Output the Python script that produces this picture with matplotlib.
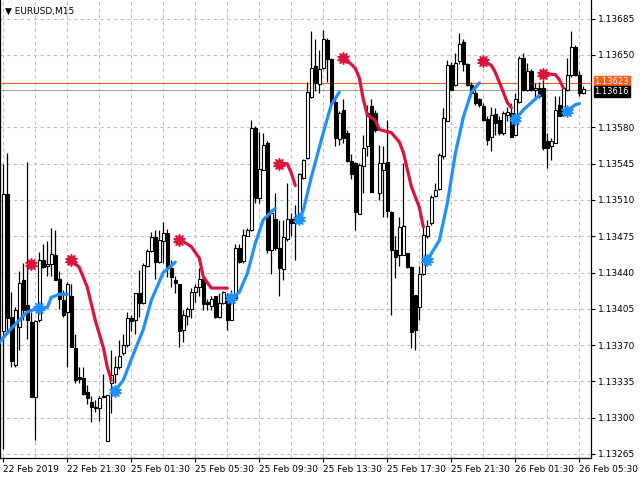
import matplotlib
matplotlib.use("Agg")
import matplotlib.pyplot as plt
import numpy as np

# prices in points: price = 1.0 + p * 1e-5
opens = [13384,13516,13397,13351,13387,13433,13409,13392,13320,13394,13452,13446,13448,13457,13434,13413,13402,13417,13367,13339,
13338,13325,13315,13310,13309,13321,13277,13333,13342,13349,13362,13370,13396,13394,13420,13411,13446,13461,13474,13450,
13470,13478,13444,13433,13429,13385,13398,13405,13421,13426,13434,13412,13408,13417,13397,13411,13417,13394,13415,13464,
13451,13475,13481,13579,13512,13539,13565,13462,13492,13464,13443,13472,13492,13488,13491,13531,13551,13609,13639,13622,
13637,13664,13646,13605,13569,13597,13575,13548,13546,13496,13543,13562,13601,13594,13517,13539,13547,13498,13462,13457,
13457,13459,13445,13418,13407,13439,13475,13488,13514,13521,13552,13586,13640,13621,13644,13662,13641,13621,13613,13607,
13601,13588,13571,13593,13587,13575,13592,13594,13573,13605,13647,13616,13634,13616,13618,13618,13567,13562,13565,13602,
13592,13616,13631,13658,13631,13613]
closes = [13516,13396,13355,13404,13430,13404,13394,13320,13393,13452,13445,13448,13458,13433,13414,13399,13429,13368,13336,13337,
13323,13319,13310,13309,13319,13320,13322,13341,13349,13359,13370,13396,13393,13420,13411,13447,13461,13474,13450,13471,
13478,13444,13436,13430,13384,13399,13405,13421,13426,13434,13410,13410,13414,13397,13411,13421,13394,13415,13464,13450,
13476,13481,13579,13512,13540,13563,13462,13497,13464,13444,13474,13492,13488,13492,13535,13549,13614,13637,13623,13636,
13665,13646,13604,13570,13594,13570,13548,13535,13498,13544,13560,13594,13518,13578,13546,13546,13499,13462,13455,13484,
13485,13445,13383,13385,13439,13476,13485,13513,13520,13553,13589,13640,13616,13642,13661,13641,13621,13613,13604,13602,
13587,13568,13592,13584,13575,13594,13595,13571,13607,13647,13616,13634,13616,13618,13610,13560,13560,13567,13597,13591,
13618,13631,13658,13631,13613,13617]
highs = [13545,13555,13421,13407,13441,13449,13547,13402,13394,13460,13468,13470,13483,13481,13441,13423,13431,13429,13381,13349,
13349,13331,13321,13317,13321,13342,13322,13365,13359,13375,13381,13402,13399,13420,13442,13449,13463,13479,13481,13481,
13489,13482,13452,13437,13429,13404,13407,13425,13429,13444,13435,13414,13417,13417,13420,13422,13420,13423,13468,13468,
13482,13483,13587,13581,13576,13575,13567,13501,13517,13491,13491,13526,13497,13505,13536,13550,13624,13673,13665,13655,
13674,13666,13647,13607,13596,13607,13578,13554,13547,13546,13573,13602,13607,13597,13563,13562,13587,13499,13475,13494,
13546,13459,13446,13418,13446,13484,13491,13515,13526,13555,13599,13645,13643,13652,13671,13665,13642,13624,13616,13608,
13604,13591,13600,13599,13591,13596,13600,13604,13613,13649,13652,13642,13636,13623,13624,13626,13575,13570,13610,13610,
13620,13647,13673,13660,13634,13620]
lows = [13270,13381,13349,13349,13365,13394,13376,13320,13278,13392,13444,13437,13437,13433,13405,13397,13349,13368,13333,13333,
13322,13313,13296,13305,13297,13320,13277,13304,13333,13347,13360,13368,13384,13381,13397,13410,13445,13460,13434,13449,
13449,13436,13426,13420,13368,13373,13389,13396,13412,13417,13404,13404,13404,13396,13396,13410,13385,13394,13415,13449,
13449,13475,13480,13507,13507,13539,13459,13439,13462,13417,13433,13470,13475,13452,13488,13530,13550,13608,13615,13613,
13636,13624,13604,13562,13563,13565,13547,13530,13481,13496,13517,13552,13518,13576,13510,13494,13494,13399,13435,13446,
13457,13444,13367,13365,13394,13438,13473,13486,13513,13520,13550,13586,13616,13620,13641,13634,13620,13610,13602,13600,
13586,13563,13557,13573,13573,13573,13586,13571,13573,13604,13615,13615,13615,13607,13608,13558,13541,13549,13565,13591,
13591,13615,13629,13630,13610,13612]

red_segments = [
    ([7], [13448]),
    ([17,19,21,23,25,26,27], [13452,13445,13426,13394,13368,13349,13336]),
    ([44,45,47,49,50,52,56], [13471,13470,13465,13454,13436,13425,13425]),
    ([69,71,72,73], [13545,13545,13536,13524]),
    ([85,87,88,89,90,91,93,94,97,99,100,102,104,105],
     [13647,13641,13637,13628,13607,13592,13587,13578,13575,13566,13556,13523,13503,13484]),
    ([120,122,123,125,126,127], [13644,13640,13633,13614,13604,13599]),
    ([135,138,139,140], [13632,13631,13626,13618]),
]
blue_segments = [
    ([-1,0,2,4,6,9,11,12,14,16], [13372,13377,13386,13394,13402,13406,13406,13416,13419,13419], 9),
    ([28,30,32,35,37,40,43], [13326,13336,13356,13385,13413,13440,13450], 28),
    ([57,59,61,63,65,68], [13415,13421,13439,13468,13491,13502], 57),
    ([74,75,77,80,82,84], [13492,13500,13532,13575,13602,13614], 74),
    ([106,109,111,113,115,117,119], [13452,13471,13507,13555,13590,13614,13623], 106),
    ([128,130,134], [13588,13597,13611], 128),
    ([141,143,144], [13596,13602,13603], 141),
]
y_ticks = [13265,13300,13335,13370,13405,13440,13475,13510,13545,13580,13650,13685]
x_label_idx = [0,16,32,48,64,80,96,112,128,144]
x_labels = ["22 Feb 2019","22 Feb 21:30","25 Feb 01:30","25 Feb 05:30","25 Feb 09:30",
            "25 Feb 13:30","25 Feb 17:30","25 Feb 21:30","26 Feb 01:30","26 Feb 05:30"]
ask = 13623
bid = 13616

def P(v):
    return 1.0 + np.asarray(v, dtype=float) * 1e-5

fig = plt.figure(figsize=(6.4, 4.8), dpi=100)
ax = fig.add_axes([0.0, 22/480, 591/640, 458/480])
ax.set_xlim(-0.8, 146.9)
ax.set_ylim(P(13261), P(13703))

for i in range(0, 147, 8):
    ax.axvline(i, color="#c0c0c0", ls=(0, (3, 3)), lw=0.8, zorder=0)
for t in y_ticks:
    ax.axhline(P(t), color="#c0c0c0", ls=(0, (3, 3)), lw=0.8, zorder=0)

ax.axhline(P(ask), color="#ff5020", lw=0.7, zorder=1)
ax.axhline(P(bid), color="#a0a0a0", lw=0.7, zorder=1)

x = np.arange(len(opens))
o, c, h, l = P(opens), P(closes), P(highs), P(lows)
ax.vlines(x, l, h, color="black", lw=0.9, zorder=2)
bull = c >= o
bodies_b = np.maximum(np.abs(c - o), 0.000008)
ax.bar(x[bull], bodies_b[bull], bottom=np.minimum(o, c)[bull], width=0.65,
       color="white", edgecolor="black", lw=0.8, zorder=3)
ax.bar(x[~bull], bodies_b[~bull], bottom=np.minimum(o, c)[~bull], width=0.65,
       color="black", edgecolor="black", lw=0.8, zorder=3)

red = "#DC143C"
blue = "#1E90FF"
for xs, ys in red_segments:
    ax.plot(xs, P(ys), color=red, lw=2.3, solid_capstyle="round", zorder=4)
    ax.plot(xs[0], P(ys[0]), marker=(10, 1, 0), ms=9, color=red, zorder=5)
for xs, ys, s in blue_segments:
    ax.plot(xs, P(ys), color=blue, lw=2.3, solid_capstyle="round", zorder=4)
    ax.plot(s, P(ys[xs.index(s)]), marker=(10, 1, 0), ms=9, color=blue, zorder=5)

ax.yaxis.tick_right()
ax.set_yticks(P(y_ticks))
ax.set_yticklabels([f"{1.0 + t*1e-5:.5f}" for t in y_ticks], fontsize=6.5)
ax.set_xticks(x_label_idx)
ax.set_xticklabels(x_labels, fontsize=6.5, ha="left")
ax.tick_params(axis="both", length=3, width=0.8, pad=2)
for s in ax.spines.values():
    s.set_linewidth(0.9)
ax.spines["top"].set_visible(False)

ax.text(1.006, P(ask) + 0.000015, f"{1.0 + ask*1e-5:.5f}", transform=ax.get_yaxis_transform(),
        fontsize=6, color="white", va="center", ha="left", zorder=6,
        bbox=dict(boxstyle="square,pad=0.1", fc="#ff5a1e", ec="#ff5a1e"))
ax.text(1.006, P(bid) - 0.000015, f"{1.0 + bid*1e-5:.5f}", transform=ax.get_yaxis_transform(),
        fontsize=6, color="white", va="center", ha="left", zorder=7,
        bbox=dict(boxstyle="square,pad=0.1", fc="black", ec="black"))

fig.text(5/640, 1 - 11/480, "\u25bc EURUSD,M15", fontsize=6.5, va="center", ha="left")
fig.savefig("out.png", dpi=100, facecolor="white")
